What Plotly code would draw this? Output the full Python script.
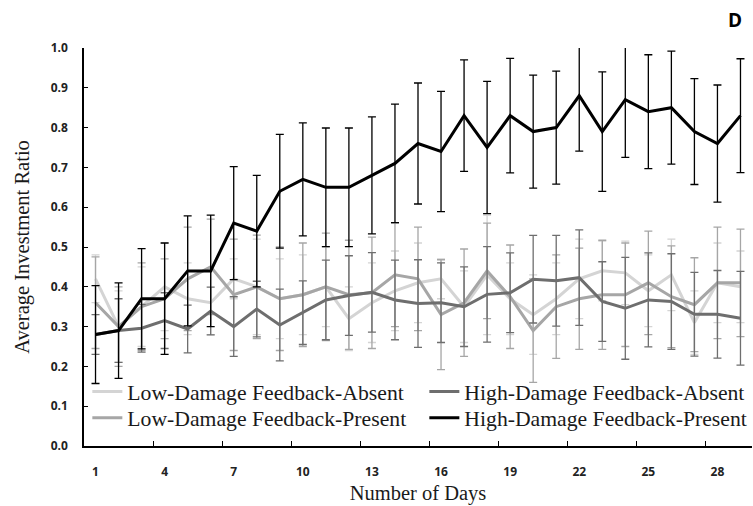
import plotly.graph_objects as go

days = list(range(1, 30))
tick_days = [1, 4, 7, 10, 13, 16, 19, 22, 25, 28]
y_ticks = [0.0, 0.1, 0.2, 0.3, 0.4, 0.5, 0.6, 0.7, 0.8, 0.9, 1.0]

# Mean investment ratio per day for each condition
low_absent = [0.42, 0.30, 0.35, 0.40, 0.37, 0.36, 0.42, 0.40, 0.37, 0.38,
              0.40, 0.32, 0.36, 0.39, 0.41, 0.42, 0.35, 0.43, 0.37, 0.33,
              0.37, 0.42, 0.44, 0.435, 0.39, 0.43, 0.31, 0.41, 0.40]
low_present = [0.36, 0.30, 0.35, 0.37, 0.42, 0.45, 0.38, 0.40, 0.37, 0.38,
               0.40, 0.38, 0.385, 0.43, 0.42, 0.33, 0.36, 0.44, 0.375, 0.29,
               0.35, 0.37, 0.38, 0.38, 0.41, 0.375, 0.355, 0.41, 0.41]
high_absent = [0.28, 0.29, 0.296, 0.315, 0.294, 0.339, 0.30, 0.344, 0.304, 0.335,
               0.367, 0.378, 0.386, 0.367, 0.358, 0.36, 0.35, 0.381, 0.385, 0.419,
               0.415, 0.423, 0.363, 0.346, 0.367, 0.363, 0.331, 0.331, 0.321]
high_present = [0.28, 0.29, 0.37, 0.37, 0.44, 0.44, 0.56, 0.54, 0.64, 0.67,
                0.65, 0.65, 0.68, 0.71, 0.76, 0.74, 0.83, 0.75, 0.83, 0.79,
                0.80, 0.88, 0.79, 0.87, 0.84, 0.85, 0.79, 0.76, 0.83]

# Error bar half-lengths
low_absent_err = [0.06, 0.09, 0.10, 0.11, 0.09, 0.08, 0.05, 0.12, 0.10, 0.10,
                  0.10, 0.08, 0.10, 0.10, 0.10, 0.05, 0.09, 0.15, 0.09, 0.10,
                  0.09, 0.10, 0.075, 0.08, 0.09, 0.09, 0.08, 0.10, 0.09]
low_present_err = [0.115, 0.10, 0.11, 0.10, 0.13, 0.12, 0.14, 0.13, 0.13, 0.13,
                   0.135, 0.137, 0.14, 0.13, 0.13, 0.138, 0.135, 0.12, 0.13, 0.13,
                   0.13, 0.127, 0.137, 0.13, 0.13, 0.128, 0.118, 0.14, 0.135]
high_absent_err = [0.05, 0.08, 0.06, 0.07, 0.06, 0.06, 0.075, 0.07, 0.09, 0.08,
                   0.10, 0.10, 0.10, 0.10, 0.11, 0.10, 0.10, 0.12, 0.10, 0.11,
                   0.114, 0.12, 0.10, 0.128, 0.118, 0.12, 0.105, 0.11, 0.118]
high_present_err = [0.123, 0.12, 0.126, 0.14, 0.138, 0.14, 0.142, 0.14, 0.143, 0.142,
                    0.149, 0.149, 0.147, 0.149, 0.152, 0.151, 0.14, 0.166, 0.144, 0.142,
                    0.142, 0.139, 0.15, 0.145, 0.143, 0.142, 0.133, 0.147, 0.143]

# Each series gets its own legend box so the 2x2 key can be laid out as a grid
series = [
    ("Low-Damage Feedback-Absent", low_absent, low_absent_err, "#d4d4d4", "legend"),
    ("Low-Damage Feedback-Present", low_present, low_present_err, "#a6a6a6", "legend2"),
    ("High-Damage Feedback-Absent", high_absent, high_absent_err, "#6e6e6e", "legend3"),
    ("High-Damage Feedback-Present", high_present, high_present_err, "#000000", "legend4"),
]

serif = "Liberation Serif, Times New Roman, serif"
sans = "Open Sans, Liberation Sans, Arial, sans-serif"

fig = go.Figure()
for name, vals, err, color, leg in series:
    fig.add_trace(go.Scatter(
        x=days, y=vals, name=name, mode="lines",
        line=dict(color=color, width=3),
        error_y=dict(type="data", array=err, visible=True,
                     color=color, thickness=1.3, width=4),
        legend=leg,
    ))

legend_style = dict(yanchor="top", xanchor="left", bgcolor="rgba(0,0,0,0)",
                    font=dict(family=serif, size=21.7, color="#1a1a1a"),
                    itemwidth=30, tracegroupgap=0)
row1, row2 = 0.189, 0.123
col1, col2 = 0.005, 0.5095

fig.update_layout(
    width=753, height=506,
    # autoexpand off so the key boxes cannot widen the margins
    margin=dict(l=84, r=1, t=48, b=60, autoexpand=False),
    paper_bgcolor="white", plot_bgcolor="white",
    showlegend=True,
    legend=dict(x=col1, y=row1, **legend_style),
    legend2=dict(x=col1, y=row2, **legend_style),
    legend3=dict(x=col2, y=row1, **legend_style),
    legend4=dict(x=col2, y=row2, **legend_style),
    xaxis=dict(
        range=[0.5, 29.5], showgrid=False, zeroline=False, automargin=False,
        showline=True, linecolor="black", linewidth=1.5,
        tickmode="array", tickvals=tick_days, ticktext=[str(d) for d in tick_days],
        ticks="", ticklabelstandoff=14,
        tickfont=dict(family=sans, size=12, color="#222", weight="bold"),
        minor=dict(tickmode="array", tickvals=[d + 2.5 for d in tick_days],
                   ticks="inside", ticklen=5, tickcolor="black", tickwidth=1.3),
        title=dict(text="Number of Days", font=dict(family=serif, size=20.5, color="#1a1a1a"),
                   standoff=6),
    ),
    yaxis=dict(
        range=[0, 1], showgrid=False, zeroline=False, automargin=False,
        showline=True, linecolor="black", linewidth=1.5,
        tickmode="array", tickvals=y_ticks, tickformat=".1f",
        ticks="inside", ticklen=4, tickcolor="black", tickwidth=1.2,
        ticklabelstandoff=12,
        tickfont=dict(family=sans, size=12, color="#222", weight="bold"),
        title=dict(text="Average Investment Ratio", font=dict(family=serif, size=20.5, color="#1a1a1a"),
                   standoff=16),
    ),
    annotations=[dict(text="<b>D</b>", x=(735 - 84) / 668, y=1 + (48 - 20) / 398,
                      xref="paper", yref="paper", xanchor="center", yanchor="middle",
                      showarrow=False, font=dict(family=sans, size=19, color="black"))],
)

fig.write_html("out.html")
